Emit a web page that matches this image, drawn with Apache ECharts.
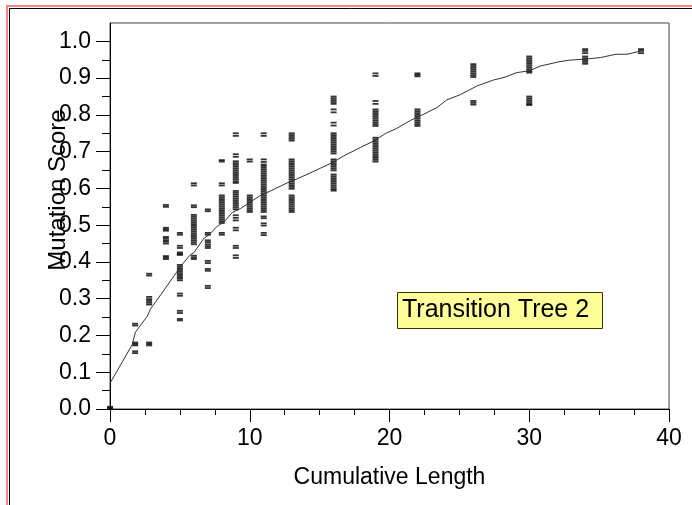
<!DOCTYPE html>
<html>
<head>
<meta charset="utf-8">
<script src="https://cdn.jsdelivr.net/npm/echarts@6/dist/echarts.min.js"></script>
<style>html,body{margin:0;padding:0;background:#fff;}#c{width:692px;height:505px;}</style>
</head>
<body>
<div id="c"></div>
<script>
// ---- data ----
const colX = [0, 1.8, 2.8, 4, 5, 6, 7, 8, 9, 10, 11, 13, 16, 19, 22, 26, 30, 34, 38];
const colY0 = [0.0, 0.003, 0.006];
const colY1 = [0.232, 0.227, 0.181, 0.177, 0.173, 0.157, 0.152];
const colY2 = [0.368, 0.363, 0.305, 0.299, 0.294, 0.289, 0.284, 0.181, 0.177, 0.173];
const colY3 = [0.555, 0.55, 0.493, 0.489, 0.485, 0.468, 0.464, 0.459, 0.455, 0.45, 0.416, 0.412, 0.408];
const colY4 = [0.479, 0.474, 0.444, 0.438, 0.426, 0.422, 0.419, 0.392, 0.387, 0.382, 0.378, 0.373, 0.368, 0.364, 0.359, 0.355, 0.35, 0.314, 0.308, 0.267, 0.261, 0.245, 0.241];
const colY5 = [0.614, 0.608, 0.554, 0.549, 0.528, 0.523, 0.518, 0.513, 0.508, 0.503, 0.498, 0.493, 0.488, 0.483, 0.478, 0.473, 0.468, 0.463, 0.458, 0.453, 0.448, 0.417, 0.412, 0.408];
const colY6 = [0.543, 0.538, 0.479, 0.474, 0.459, 0.454, 0.448, 0.443, 0.438, 0.403, 0.397, 0.381, 0.376, 0.335, 0.329];
const colY7 = [0.677, 0.673, 0.614, 0.608, 0.581, 0.576, 0.571, 0.566, 0.561, 0.556, 0.551, 0.546, 0.541, 0.536, 0.531, 0.526, 0.521, 0.516, 0.511, 0.506, 0.479, 0.474];
const colY8 = [0.75, 0.743, 0.693, 0.686, 0.674, 0.669, 0.664, 0.659, 0.654, 0.649, 0.644, 0.639, 0.634, 0.629, 0.624, 0.619, 0.615, 0.593, 0.588, 0.583, 0.578, 0.573, 0.568, 0.563, 0.558, 0.553, 0.548, 0.543, 0.527, 0.52, 0.513, 0.493, 0.486, 0.444, 0.438, 0.418, 0.411];
const colY9 = [0.679, 0.673, 0.581, 0.576, 0.571, 0.566, 0.561, 0.556, 0.551, 0.546, 0.541, 0.536];
const colY10 = [0.75, 0.743, 0.679, 0.672, 0.665, 0.661, 0.656, 0.651, 0.646, 0.641, 0.636, 0.631, 0.626, 0.621, 0.616, 0.611, 0.606, 0.601, 0.596, 0.591, 0.586, 0.581, 0.576, 0.571, 0.566, 0.561, 0.556, 0.551, 0.546, 0.541, 0.536, 0.524, 0.519, 0.505, 0.499, 0.479, 0.473];
const colY11 = [0.75, 0.745, 0.74, 0.735, 0.73, 0.679, 0.674, 0.669, 0.664, 0.659, 0.654, 0.649, 0.644, 0.639, 0.634, 0.629, 0.624, 0.619, 0.614, 0.609, 0.604, 0.599, 0.581, 0.576, 0.571, 0.566, 0.561, 0.556, 0.551, 0.546, 0.541, 0.536];
const colY12 = [0.85, 0.845, 0.84, 0.835, 0.83, 0.815, 0.807, 0.779, 0.771, 0.75, 0.745, 0.74, 0.735, 0.73, 0.725, 0.72, 0.715, 0.71, 0.705, 0.7, 0.695, 0.679, 0.674, 0.669, 0.664, 0.659, 0.654, 0.649, 0.638, 0.633, 0.628, 0.623, 0.618, 0.613, 0.608, 0.603, 0.598, 0.594];
const colY13 = [0.913, 0.906, 0.838, 0.83, 0.815, 0.81, 0.805, 0.8, 0.795, 0.79, 0.785, 0.78, 0.775, 0.77, 0.738, 0.733, 0.728, 0.723, 0.718, 0.713, 0.708, 0.703, 0.698, 0.693, 0.688, 0.683, 0.678, 0.673];
const colY14 = [0.913, 0.909, 0.905, 0.815, 0.81, 0.805, 0.8, 0.795, 0.79, 0.785, 0.78, 0.775, 0.77];
const colY15 = [0.938, 0.933, 0.928, 0.923, 0.918, 0.913, 0.908, 0.903, 0.838, 0.833, 0.828];
const colY16 = [0.959, 0.954, 0.949, 0.944, 0.939, 0.934, 0.929, 0.924, 0.919, 0.915, 0.85, 0.845, 0.84, 0.835, 0.83, 0.827];
const colY17 = [0.979, 0.974, 0.968, 0.959, 0.954, 0.949, 0.944, 0.939];
const colY18 = [0.979, 0.974, 0.968];
const colYs = [colY0, colY1, colY2, colY3, colY4, colY5, colY6, colY7, colY8, colY9, colY10, colY11, colY12, colY13, colY14, colY15, colY16, colY17, colY18];

const lineX = [0, 1.59, 1.82, 2.66, 2.9, 3.97, 4.8, 5.16, 5.76, 6.0, 6.71, 7.07, 7.67, 8.14, 8.74, 9.33, 10.77, 11.48, 12.67, 13.39, 15.06, 16.0, 16.7, 17.9, 18.87, 19.7, 20.5, 21.5, 22.45, 23.4, 24.1, 25.07, 26.27, 27.45, 28.2, 29.1, 30.0, 30.8, 32.2, 32.9, 34.1, 35.1, 36.2, 37.0, 37.9];
const lineY = [0.07, 0.175, 0.209, 0.252, 0.272, 0.329, 0.374, 0.393, 0.42, 0.425, 0.464, 0.473, 0.497, 0.508, 0.534, 0.545, 0.581, 0.593, 0.615, 0.626, 0.655, 0.672, 0.688, 0.711, 0.729, 0.749, 0.763, 0.785, 0.802, 0.82, 0.841, 0.855, 0.879, 0.895, 0.902, 0.915, 0.92, 0.933, 0.945, 0.949, 0.952, 0.956, 0.965, 0.965, 0.973];

const yMajorTicks = [0, 0.1, 0.2, 0.3, 0.4, 0.5, 0.6, 0.7, 0.8, 0.9, 1.0];
const yMinorTicks = [0.05, 0.15, 0.25, 0.35, 0.45, 0.55, 0.65, 0.75, 0.85, 0.95];
const xTitle = 'Cumulative Length';
const yTitle = 'Mutation Score';
const boxText = 'Transition Tree 2';

// ---- build ----
const scatterData = [];
colX.forEach((x, i) => colYs[i].forEach(y => scatterData.push([x, y])));
const lineData = lineX.map((x, i) => [x, lineY[i]]);

const FONT = 'Liberation Sans, Arial, sans-serif';
const chart = echarts.init(document.getElementById('c'), null, {renderer: 'canvas'});
chart.setOption({
  animation: false,
  backgroundColor: '#fff',
  title: {
    text: boxText,
    left: 397, top: 292,
    padding: [5, 14, 5, 5],
    backgroundColor: '#ffff99',
    borderColor: '#333300',
    borderWidth: 1,
    textStyle: {fontFamily: FONT, fontSize: 25, fontWeight: 'normal', color: '#000', lineHeight: 27}
  },
  grid: {left: 110, right: 23, top: 23, bottom: 96, show: true, borderColor: '#444', borderWidth: 1, backgroundColor: 'transparent'},
  xAxis: {
    type: 'value', min: 0, max: 40, interval: 10,
    name: xTitle, nameLocation: 'middle', nameGap: 57, nameMoveOverlap: false,
    nameTextStyle: {fontFamily: FONT, fontSize: 23, color: '#000'},
    axisLine: {show: true, lineStyle: {color: '#000', width: 1}},
    axisTick: {show: true, inside: false, length: 13, lineStyle: {color: '#000'}},
    minorTick: {show: true, splitNumber: 4, length: 6, lineStyle: {color: '#000'}},
    axisLabel: {fontFamily: FONT, fontSize: 23, color: '#000', margin: 18},
    splitLine: {show: false}
  },
  yAxis: [{
    type: 'value', min: 0, max: 1.05,
    name: yTitle, nameLocation: 'middle', nameGap: 40, nameRotate: 90, nameMoveOverlap: false,
    nameTextStyle: {fontFamily: FONT, fontSize: 24, color: '#000', padding: [0, 0, 0, 52]},
    axisLine: {show: true, lineStyle: {color: '#000', width: 1}},
    axisTick: {show: true, length: 14, customValues: yMajorTicks, lineStyle: {color: '#000'}},
    axisLabel: {fontFamily: FONT, fontSize: 23, color: '#000', margin: 19, customValues: yMajorTicks,
      formatter: v => v.toFixed(1)},
    splitLine: {show: false}
  }, {
    type: 'value', min: 0, max: 1.05, position: 'left',
    axisLine: {show: false},
    axisTick: {show: true, length: 8, customValues: yMinorTicks, lineStyle: {color: '#000'}},
    axisLabel: {show: false},
    splitLine: {show: false}
  }],
  graphic: [
    {type: 'line', shape: {x1: 6, y1: 6, x2: 692, y2: 6}, style: {stroke: '#ff8080', lineWidth: 2}, z: 100},
    {type: 'line', shape: {x1: 7, y1: 6, x2: 7, y2: 505}, style: {stroke: '#ff8080', lineWidth: 2}, z: 100},
    {type: 'line', shape: {x1: 9, y1: 8.5, x2: 692, y2: 8.5}, style: {stroke: '#000', lineWidth: 1}, z: 100},
    {type: 'line', shape: {x1: 9.5, y1: 8.5, x2: 9.5, y2: 505}, style: {stroke: '#000', lineWidth: 1}, z: 100}
  ],
  series: [{
    type: 'scatter', name: 'scores', data: scatterData, symbol: 'rect', symbolSize: [6, 1.8],
    itemStyle: {color: '#000'}, silent: true
  }, {
    type: 'line', name: 'fit', data: lineData, showSymbol: false, smooth: false,
    lineStyle: {color: '#333', width: 1}, silent: true
  }]
});
</script>
</body>
</html>
